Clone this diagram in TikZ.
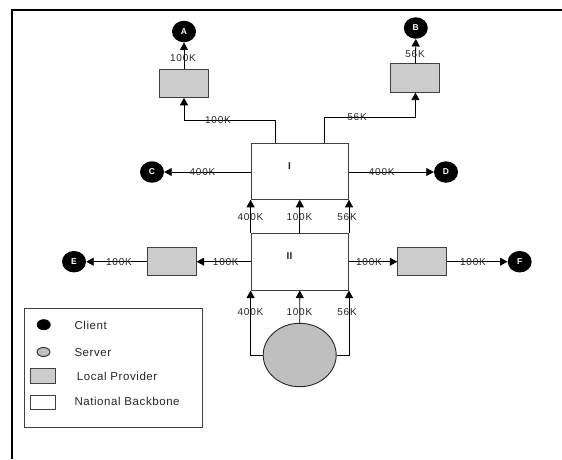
\documentclass[tikz,border=0pt]{standalone}
\usepackage{fontspec}
\setmainfont{Liberation Sans}
\usetikzlibrary{arrows.meta,shapes.geometric}
\begin{document}
\begin{tikzpicture}[x=1pt,y=-1pt,
  lbl/.style={font=\fontsize{10}{12}\selectfont\addfontfeatures{LetterSpace=8}, inner sep=0pt, text=black!85},
  legtxt/.style={font=\fontsize{11.5}{13}\selectfont\addfontfeatures{LetterSpace=5}, inner sep=0pt, anchor=west, text=black!85},
  boxtxt/.style={font=\bfseries\fontsize{10}{12}\selectfont, inner sep=0pt, text=black!85},
  client/.style={ellipse, fill=black, minimum width=24pt, minimum height=21.5pt, inner sep=0pt, text=white, font=\bfseries\fontsize{8.5}{10}\selectfont},
  server/.style={ellipse, draw=black!85, fill=black!25, line width=0.9pt, inner sep=0pt},
  lp/.style={rectangle, draw=black!75, fill=black!20, line width=0.9pt, minimum width=49pt, minimum height=28.3pt, inner sep=0pt},
  nb/.style={rectangle, draw=black!75, fill=white, line width=0.9pt, minimum width=97.5pt, inner sep=0pt},
  arr/.style={draw, line width=0.8pt, -{Triangle[width=8pt,length=7.5pt]}},
]
\useasboundingbox (0,0) rectangle (562,459);
\draw[line width=1.7pt] (12,459) -- (12,10) -- (562,10);

% backbone boxes
\node[nb, minimum height=56pt] (I) at (299.8,171.3) {};
\node[nb, minimum height=56.7pt] (II) at (299.8,261.7) {};
\node[boxtxt] at (289.5,166) {I};
\node[boxtxt] at (289.5,256) {II};

% local providers
\node[lp] (pA) at (184,83.2) {};
\node[lp] (pB) at (415.4,78) {};
\node[lp] (pE) at (171.7,261.7) {};
\node[lp] (pF) at (422.2,261.7) {};

% clients
\node[client] (A) at (184,31.5) {A};
\node[client] (B) at (415.8,28) {B};
\node[client] (C) at (152,172) {C};
\node[client] (D) at (446,172) {D};
\node[client] (E) at (74,261.7) {E};
\node[client] (F) at (519.7,261.7) {F};

% server
\node[server, minimum width=73pt, minimum height=63.4pt] (S) at (299.7,355) {};

% connectors
\coordinate (ka) at (275,120);
\coordinate (kb) at (324,117.3);
\draw[arr] (I.north -| ka) -- (ka) -| (pA.south);
\draw[arr] (I.north -| kb) -- (kb) -| (pB.south);
\draw[arr] (pA.north) -- (A.south);
\draw[arr] (pB.north) -- (B.south);
\draw[arr] (I.west |- C) -- (C);
\draw[arr] (I.east |- D) -- (D);
\draw[arr] (II.north west) -- (I.south west);
\draw[arr] (II.north) -- (I.south);
\draw[arr] (II.north east) -- (I.south east);
\draw[arr] (II.west) -- (pE.east);
\draw[arr] (pE.west) -- (E);
\draw[arr] (II.east) -- (pF.west);
\draw[arr] (pF.east) -- (F);
\draw[arr] (S.west) -| (II.south west);
\draw[arr] (S.north) -- (II.south);
\draw[arr] (S.east) -| (II.south east);

% labels
\node[lbl] at (218,120) {100K};
\node[lbl] at (357,116.7) {56K};
\node[lbl] at (183,58.3) {100K};
\node[lbl] at (415,54) {56K};
\node[lbl] at (202.5,172) {400K};
\node[lbl] at (381.7,172) {400K};
\node[lbl] at (119,261.7) {100K};
\node[lbl] at (225.8,261.7) {100K};
\node[lbl] at (369,261.7) {100K};
\node[lbl] at (473,261.7) {100K};
\node[lbl] at (250.5,217.3) {400K};
\node[lbl] at (299.4,217.3) {100K};
\node[lbl] at (347,217.3) {56K};
\node[lbl] at (250.5,311.7) {400K};
\node[lbl] at (299.4,312.5) {100K};
\node[lbl] at (347,311.7) {56K};

% legend
\node[draw=black!75, line width=0.9pt, minimum width=178pt, minimum height=119pt, inner sep=0pt] (leg) at (113.45,367.8) {};
\node[ellipse, fill=black, minimum width=14pt, minimum height=11pt, inner sep=0pt] (lc) at (43.7,324.7) {};
\node[server, minimum width=13pt, minimum height=9pt] (ls) at (43.5,352) {};
\node[lp, minimum width=25pt, minimum height=15pt] (ll) at (43.2,375.8) {};
\node[nb, minimum width=25pt, minimum height=14.3pt] (ln) at (43.2,402.2) {};
\node[legtxt] at (74.3,325) {Client};
\node[legtxt] at (74.3,352.3) {Server};
\node[legtxt] at (76.7,376) {Local Provider};
\node[legtxt] at (74.3,401.5) {National Backbone};
\end{tikzpicture}
\end{document}
